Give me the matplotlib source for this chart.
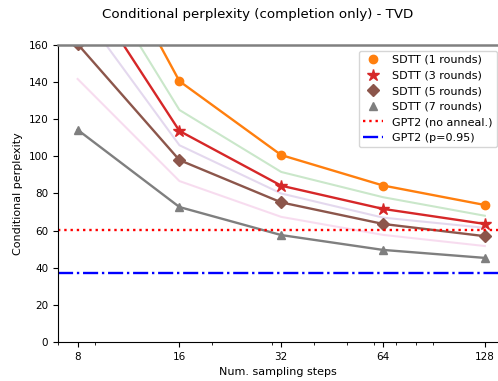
import matplotlib
matplotlib.use("Agg")
import matplotlib.pyplot as plt
from matplotlib.lines import Line2D

# sampling steps on the x axis
steps = [8, 16, 32, 64, 128]

# SDTT conditional perplexity per number of distillation rounds
ppl_r1 = [242, 140.5, 100.7, 84.3, 73.8]
ppl_r2 = [214, 125.0, 91.6, 78.0, 68.0]
ppl_r3 = [198, 113.7, 84.2, 71.7, 63.6]
ppl_r4 = [181, 106.0, 80.0, 67.0, 61.5]
ppl_r5 = [160.5, 98.0, 75.2, 63.6, 57.0]
ppl_r6 = [141.7, 86.7, 67.4, 57.7, 51.7]
ppl_r7 = [114.3, 72.7, 57.6, 49.6, 45.3]

# baselines
gpt2_no_anneal = 60.4
gpt2_p095 = 37.2

fig = plt.figure(figsize=(4.98, 3.81), dpi=100)
ax = fig.add_axes([0.1165, 0.1024, 0.8835, 0.7795])

# faint even-round curves, no markers
ax.plot(steps, ppl_r2, color="C2", lw=1.5, alpha=0.25)
ax.plot(steps, ppl_r4, color="C4", lw=1.5, alpha=0.25)
ax.plot(steps, ppl_r6, color="C6", lw=1.5, alpha=0.25)

# odd rounds with markers
ax.plot(steps, ppl_r1, color="C1", lw=1.7, marker="o", ms=6)
ax.plot(steps, ppl_r3, color="C3", lw=1.7, marker="*", ms=9)
ax.plot(steps, ppl_r5, color="C5", lw=1.7, marker="D", ms=6)
ax.plot(steps, ppl_r7, color="C7", lw=1.7, marker="^", ms=6)

ax.axhline(gpt2_no_anneal, color="red", ls=":", lw=1.7)
ax.axhline(gpt2_p095, color="blue", ls="-.", lw=1.7)

ax.set_xscale("log")
ax.set_xlim(7, 140)
ax.set_xticks(steps)
ax.set_xticklabels([str(s) for s in steps])
ax.set_ylim(0, 160)
ax.set_yticks(range(0, 161, 20))
ax.tick_params(labelsize=7.5)

ax.spines["right"].set_visible(False)
ax.spines["top"].set_color("gray")
ax.spines["top"].set_linewidth(1.8)

ax.set_xlabel("Num. sampling steps", fontsize=8)
ax.set_ylabel("Conditional perplexity", fontsize=8)
fig.suptitle("Conditional perplexity (completion only) - TVD", fontsize=9.6,
             x=0.518, y=0.961, va="center")

handles = [
    Line2D([], [], ls="none", marker="o", ms=6, color="C1", label="SDTT (1 rounds)"),
    Line2D([], [], ls="none", marker="*", ms=9, color="C3", label="SDTT (3 rounds)"),
    Line2D([], [], ls="none", marker="D", ms=6, color="C5", label="SDTT (5 rounds)"),
    Line2D([], [], ls="none", marker="^", ms=6, color="C7", label="SDTT (7 rounds)"),
    Line2D([], [], ls=":", lw=1.7, color="red", label="GPT2 (no anneal.)"),
    Line2D([], [], ls="-.", lw=1.7, color="blue", label="GPT2 (p=0.95)"),
]
ax.legend(handles=handles, loc="upper right", fontsize=8, handlelength=1.8,
          bbox_to_anchor=(1.011, 1.0))

fig.savefig("out.png", dpi=100)
